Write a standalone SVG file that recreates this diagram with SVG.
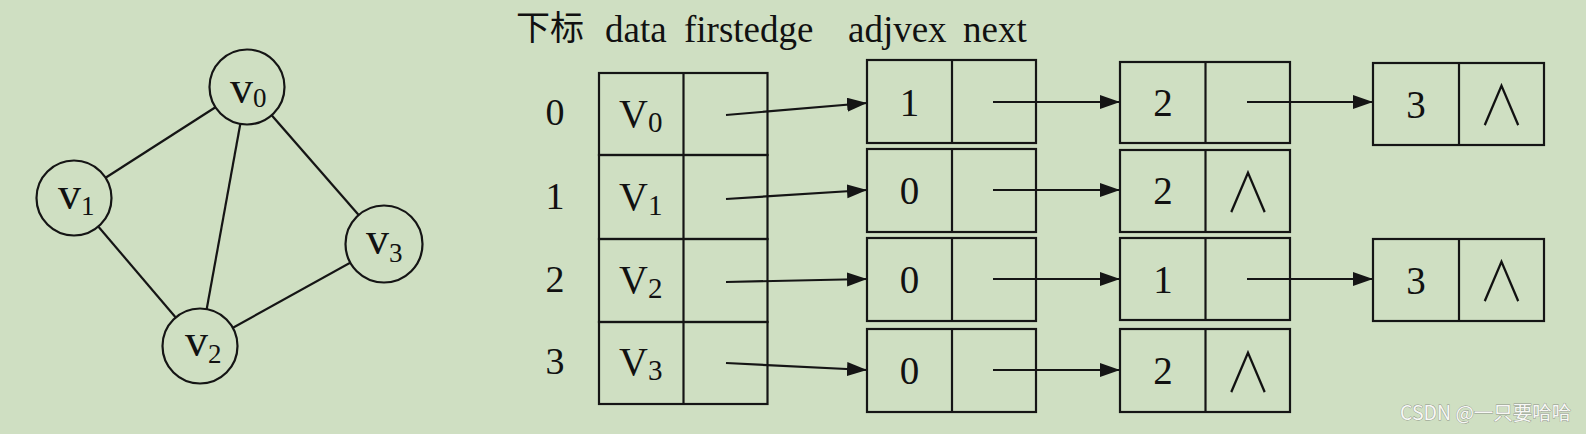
<svg xmlns="http://www.w3.org/2000/svg" width="1586" height="434" viewBox="0 0 1586 434">
<defs>
<style>
.ln{stroke:#151515;stroke-width:2.2;fill:none}
.bx{stroke:#151515;stroke-width:2.2;fill:none}
.cir{stroke:#151515;stroke-width:2.2;fill:#cfdfc2}
.t{font-family:"Liberation Serif","Times New Roman",serif;fill:#111}
.gv{font-size:46px}
.sub{font-size:27px}
.tv{font-size:40px}
.tsub{font-size:29px}
.idx{font-size:38px;text-anchor:middle}
.dg{font-size:39px;text-anchor:middle}
.hd{font-size:37px}
.nil{font-family:"Noto Sans CJK SC",sans-serif;font-weight:300;font-size:46px;text-anchor:middle;fill:#111}
.wm{font-family:"Noto Sans CJK SC","Liberation Sans",sans-serif;font-size:19.5px;fill:#f7f8f5;stroke:#8d9289;stroke-width:0.8;paint-order:stroke}
</style>
<marker id="ah" markerWidth="21" markerHeight="16" refX="20" refY="7" orient="auto" markerUnits="userSpaceOnUse">
<path d="M0,0 L20,7 L0,14 Z" fill="#151515"/>
</marker>
</defs>
<rect width="1586" height="434" fill="#cfdfc2"/>

<g id="graph-edges" class="ln">
<line x1="247" y1="87" x2="74" y2="198"/>
<line x1="247" y1="87" x2="200" y2="346"/>
<line x1="247" y1="87" x2="384" y2="244"/>
<line x1="74" y1="198" x2="200" y2="346"/>
<line x1="200" y1="346" x2="384" y2="244"/>
</g>

<g id="v0"><circle class="cir" cx="247" cy="87" r="37.5"/><text class="t gv" x="230" y="103">v<tspan class="sub" dy="4">0</tspan></text></g>
<g id="v1"><circle class="cir" cx="74" cy="198" r="37.5"/><text class="t gv" x="58" y="209">v<tspan class="sub" dy="6">1</tspan></text></g>
<g id="v2"><circle class="cir" cx="200" cy="346" r="37.5"/><text class="t gv" x="185" y="356">v<tspan class="sub" dy="7">2</tspan></text></g>
<g id="v3"><circle class="cir" cx="384" cy="244" r="38.5"/><text class="t gv" x="366" y="254">v<tspan class="sub" dy="8">3</tspan></text></g>

<g id="header">
<text x="516" y="40" font-family="Noto Sans CJK SC, sans-serif" font-size="34" fill="#111">下标</text>
<text class="t hd" x="605" y="42">data</text>
<text class="t hd" x="684" y="42">firstedge</text>
<text class="t hd" x="848" y="42">adjvex</text>
<text class="t hd" x="963" y="42">next</text>
</g>

<g id="indices">
<text class="t idx" x="555" y="125">0</text>
<text class="t idx" x="555" y="209">1</text>
<text class="t idx" x="555" y="292">2</text>
<text class="t idx" x="555" y="374">3</text>
</g>

<g id="vt0"><rect class="bx" x="599" y="73" width="168.5" height="82"/><line class="ln" x1="683.5" y1="73" x2="683.5" y2="155"/><text class="t tv" x="619" y="127">V<tspan class="tsub" dy="5">0</tspan></text></g>
<g id="vt1"><rect class="bx" x="599" y="155" width="168.5" height="84"/><line class="ln" x1="683.5" y1="155" x2="683.5" y2="239"/><text class="t tv" x="619" y="210">V<tspan class="tsub" dy="5">1</tspan></text></g>
<g id="vt2"><rect class="bx" x="599" y="239" width="168.5" height="83"/><line class="ln" x1="683.5" y1="239" x2="683.5" y2="322"/><text class="t tv" x="619" y="293">V<tspan class="tsub" dy="5">2</tspan></text></g>
<g id="vt3"><rect class="bx" x="599" y="322" width="168.5" height="82"/><line class="ln" x1="683.5" y1="322" x2="683.5" y2="404"/><text class="t tv" x="619" y="375">V<tspan class="tsub" dy="5">3</tspan></text></g>

<g id="e0a"><rect class="bx" x="867" y="60" width="169" height="83"/><line class="ln" x1="952" y1="60" x2="952" y2="143"/><text class="t dg" x="909.5" y="116">1</text></g>
<g id="e1a"><rect class="bx" x="867" y="149" width="169" height="83"/><line class="ln" x1="952" y1="149" x2="952" y2="232"/><text class="t dg" x="909.5" y="204">0</text></g>
<g id="e2a"><rect class="bx" x="867" y="238" width="169" height="83"/><line class="ln" x1="952" y1="238" x2="952" y2="321"/><text class="t dg" x="909.5" y="293">0</text></g>
<g id="e3a"><rect class="bx" x="867" y="329" width="169" height="83"/><line class="ln" x1="952" y1="329" x2="952" y2="412"/><text class="t dg" x="909.5" y="384">0</text></g>

<g id="e0b"><rect class="bx" x="1120" y="62" width="170" height="81"/><line class="ln" x1="1205.5" y1="62" x2="1205.5" y2="143"/><text class="t dg" x="1163" y="116">2</text></g>
<g id="e1b"><rect class="bx" x="1120" y="150" width="170" height="82"/><line class="ln" x1="1205.5" y1="150" x2="1205.5" y2="232"/><text class="t dg" x="1163" y="204">2</text><text class="nil" transform="translate(1248,212) scale(1,1.2)">∧</text></g>
<g id="e2b"><rect class="bx" x="1120" y="238" width="170" height="82"/><line class="ln" x1="1205.5" y1="238" x2="1205.5" y2="320"/><text class="t dg" x="1163" y="293">1</text></g>
<g id="e3b"><rect class="bx" x="1120" y="329" width="170" height="83"/><line class="ln" x1="1205.5" y1="329" x2="1205.5" y2="412"/><text class="t dg" x="1163" y="384">2</text><text class="nil" transform="translate(1248,392) scale(1,1.2)">∧</text></g>

<g id="e0c"><rect class="bx" x="1373" y="63" width="171" height="82"/><line class="ln" x1="1459" y1="63" x2="1459" y2="145"/><text class="t dg" x="1416" y="118">3</text><text class="nil" transform="translate(1501.5,125) scale(1,1.2)">∧</text></g>
<g id="e2c"><rect class="bx" x="1373" y="239" width="171" height="82"/><line class="ln" x1="1459" y1="239" x2="1459" y2="321"/><text class="t dg" x="1416" y="294">3</text><text class="nil" transform="translate(1501.5,301) scale(1,1.2)">∧</text></g>

<g id="connectors" class="ln">
<line x1="726" y1="115" x2="867" y2="103" marker-end="url(#ah)"/>
<line x1="726" y1="199" x2="867" y2="190" marker-end="url(#ah)"/>
<line x1="726" y1="282" x2="867" y2="279" marker-end="url(#ah)"/>
<line x1="726" y1="363" x2="867" y2="370" marker-end="url(#ah)"/>
<line x1="993" y1="102" x2="1120" y2="102" marker-end="url(#ah)"/>
<line x1="993" y1="190" x2="1120" y2="190" marker-end="url(#ah)"/>
<line x1="993" y1="279" x2="1120" y2="279" marker-end="url(#ah)"/>
<line x1="993" y1="370" x2="1120" y2="370" marker-end="url(#ah)"/>
<line x1="1247" y1="102" x2="1373" y2="102" marker-end="url(#ah)"/>
<line x1="1247" y1="279" x2="1373" y2="279" marker-end="url(#ah)"/>
</g>

<text class="wm" x="1400" y="420">CSDN @一只要哈哈</text>
</svg>
